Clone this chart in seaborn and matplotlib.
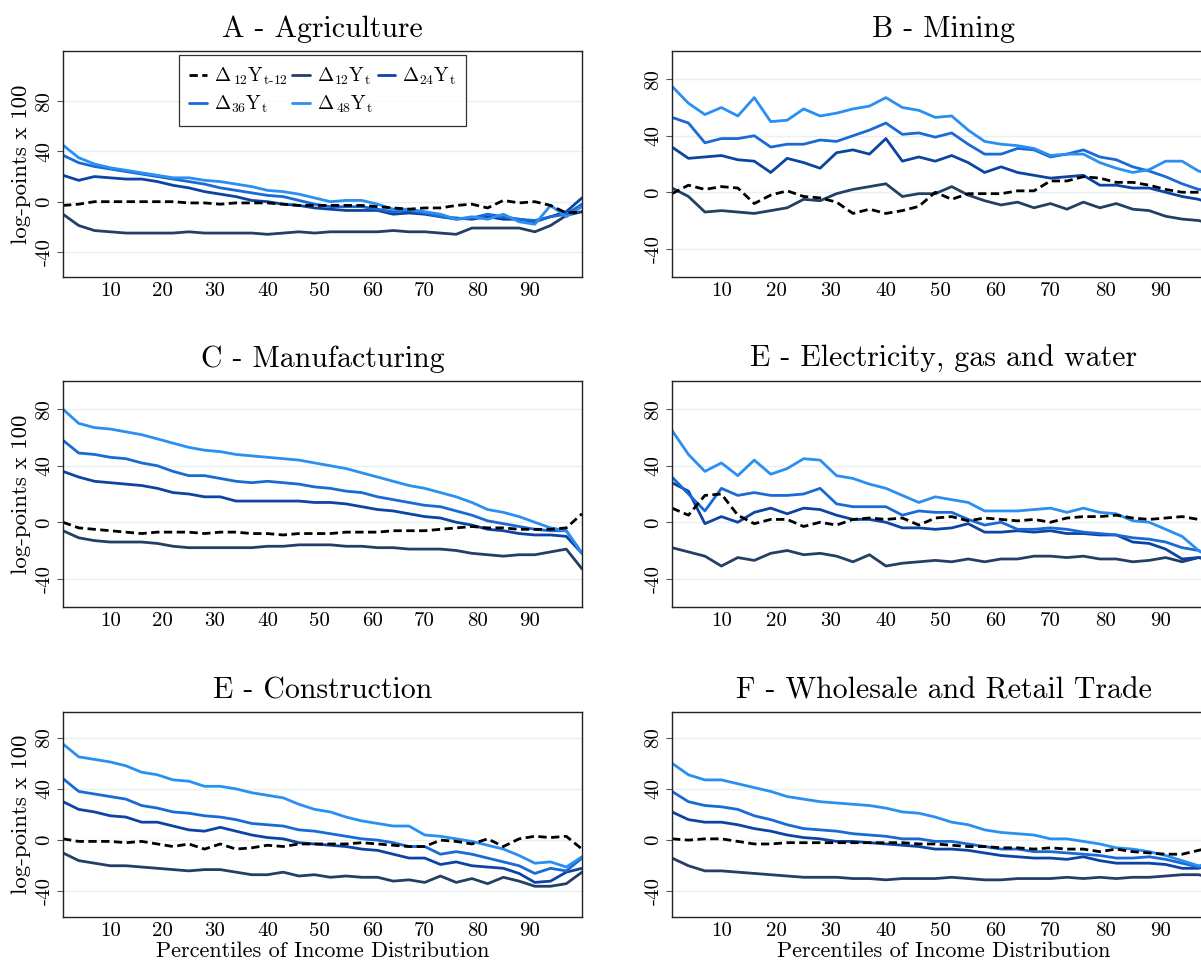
import numpy as np
import pandas as pd
import matplotlib
matplotlib.use("Agg")
import matplotlib.pyplot as plt
import seaborn as sns

# ==========================================
# 1. Data (every 3rd percentile)
# ==========================================
PCTL = [1, 4, 7, 10, 13, 16, 19, 22, 25, 28, 31, 34, 37, 40, 43, 46, 49,
        52, 55, 58, 61, 64, 67, 70, 73, 76, 79, 82, 85, 88, 91, 94, 97, 100]

SERIES = ["L12", "D12", "D24", "D36", "D48"]
LABELS = [r"$\Delta_{\,12}\mathrm{Y}_{\mathrm{t\text{-}12}}$",
          r"$\Delta_{12}\mathrm{Y}_{\mathrm{t}}$",
          r"$\Delta_{24}\mathrm{Y}_{\mathrm{t}}$",
          r"$\Delta_{36}\mathrm{Y}_{\mathrm{t}}$",
          r"$\Delta_{\,48}\mathrm{Y}_{\mathrm{t}}$"]
COLORS = ["black", "#233f66", "#0c44a3", "#1a6ad6", "#2a8ff2"]

TITLES = ["A - Agriculture", "B - Mining", "C - Manufacturing",
          "E - Electricity, gas and water", "E - Construction",
          "F - Wholesale and Retail Trade"]

# A - Agriculture
agr_l12 = [-3, -2, 0, 0, 0, 0, 0, 0, -1, -1, -2, -1, -1, -1, -2, -3, -3,
           -3, -3, -3, -4, -5, -6, -5, -5, -3, -2, -5, 1, -1, 0, -3, -9, -8]
agr_d12 = [-10, -19, -23, -24, -25, -25, -25, -25, -24, -25, -25, -25, -25, -26, -25, -24, -25,
           -24, -24, -24, -24, -23, -24, -24, -25, -26, -21, -21, -21, -21, -24, -19, -11, -8]
agr_d24 = [21, 17, 20, 19, 18, 18, 16, 13, 11, 8, 6, 4, 1, 0, -2, -3, -5,
           -6, -7, -7, -7, -10, -9, -10, -12, -13, -14, -12, -14, -14, -16, -12, -8, 3]
agr_d36 = [37, 31, 28, 26, 24, 22, 20, 18, 16, 14, 11, 9, 7, 5, 4, 1, -2,
           -4, -4, -4, -6, -8, -7, -9, -12, -14, -13, -10, -12, -14, -15, -12, -10, -2]
agr_d48 = [45, 35, 30, 27, 25, 23, 21, 19, 19, 17, 16, 14, 12, 9, 8, 6, 3,
           0, 1, 1, -2, -6, -6, -8, -10, -14, -12, -14, -10, -16, -18, -3, -12, -4]

# B - Mining
min_l12 = [-1, 5, 2, 4, 3, -8, -2, 1, -3, -4, -7, -15, -12, -15, -13, -10, 0,
           -5, -1, -1, -1, 1, 1, 8, 8, 11, 10, 7, 7, 5, 2, 0, 0, 1]
min_d12 = [3, -3, -14, -13, -14, -15, -13, -11, -5, -6, -1, 2, 4, 6, -3, -1, -1,
           4, -2, -6, -9, -7, -11, -8, -12, -7, -11, -8, -12, -13, -17, -19, -20, -23]
min_d24 = [32, 24, 25, 26, 23, 22, 14, 24, 21, 17, 28, 30, 27, 38, 22, 25, 22,
           26, 21, 14, 18, 14, 12, 10, 11, 12, 5, 5, 3, 3, 0, -3, -5, -9]
min_d36 = [53, 49, 35, 38, 38, 40, 32, 34, 34, 37, 36, 40, 44, 49, 41, 42, 39,
           42, 34, 27, 27, 31, 30, 25, 27, 30, 25, 23, 18, 15, 11, 6, 2, 1]
min_d48 = [75, 63, 55, 60, 54, 67, 50, 51, 59, 54, 56, 59, 61, 67, 60, 58, 53,
           54, 44, 36, 34, 33, 31, 26, 27, 27, 21, 17, 14, 16, 22, 22, 15, 12]

# C - Manufacturing
man_l12 = [0, -4, -5, -6, -7, -8, -7, -7, -7, -8, -7, -7, -8, -8, -9, -8, -8,
           -8, -7, -7, -7, -6, -6, -6, -5, -4, -3, -4, -4, -5, -5, -5, -4, 6]
man_d12 = [-6, -11, -13, -14, -14, -14, -15, -17, -18, -18, -18, -18, -18, -17, -17, -16, -16,
           -16, -17, -17, -18, -18, -19, -19, -19, -20, -22, -23, -24, -23, -23, -21, -19, -33]
man_d24 = [36, 32, 29, 28, 27, 26, 24, 21, 20, 18, 18, 15, 15, 15, 15, 15, 14,
           14, 13, 11, 9, 8, 6, 4, 3, 0, -2, -5, -6, -8, -9, -9, -10, -22]
man_d36 = [58, 49, 48, 46, 45, 42, 40, 36, 33, 33, 31, 29, 28, 29, 28, 27, 25,
           24, 22, 21, 18, 16, 14, 12, 11, 8, 5, 1, -1, -3, -5, -6, -6, -22]
man_d48 = [80, 70, 67, 66, 64, 62, 59, 56, 53, 51, 50, 48, 47, 46, 45, 44, 42,
           40, 38, 35, 32, 29, 26, 24, 21, 18, 14, 9, 7, 4, 0, -4, -6, -22]

# E - Electricity, gas and water
ele_l12 = [10, 5, 19, 20, 5, -1, 2, 2, -3, 0, -2, 2, 3, 2, 3, -2, 3,
           4, 1, 3, 2, 1, 2, 0, 3, 4, 4, 5, 3, 2, 3, 4, 2, 4]
ele_d12 = [-18, -21, -24, -31, -25, -27, -22, -20, -23, -22, -24, -28, -23, -31, -29, -28, -27,
           -28, -26, -28, -26, -26, -24, -24, -25, -24, -26, -26, -28, -27, -25, -28, -25, -26]
ele_d24 = [28, 22, -1, 4, 0, 7, 10, 6, 10, 9, 5, 2, 2, 0, -4, -4, -5,
           -4, -1, -7, -7, -6, -7, -6, -8, -8, -9, -9, -14, -15, -19, -26, -25, -28]
ele_d36 = [32, 20, 8, 24, 19, 21, 19, 19, 20, 24, 13, 11, 11, 11, 5, 8, 7,
           7, 2, -2, 0, -5, -5, -4, -5, -7, -8, -9, -11, -12, -14, -18, -20, -27]
ele_d48 = [65, 48, 36, 42, 33, 44, 34, 38, 45, 44, 33, 31, 27, 24, 19, 14, 18,
           16, 14, 8, 8, 8, 9, 10, 7, 10, 7, 6, 1, 0, -5, -10, -20, -25]

# E - Construction
con_l12 = [1, -1, -1, -1, -2, -1, -3, -5, -3, -7, -3, -7, -6, -4, -5, -3, -3,
           -3, -3, -2, -3, -4, -5, -5, 0, -1, -3, 1, -5, 1, 3, 2, 3, -7]
con_d12 = [-10, -16, -18, -20, -20, -21, -22, -23, -24, -23, -23, -25, -27, -27, -25, -28, -27,
           -29, -28, -29, -29, -32, -31, -33, -28, -33, -30, -34, -29, -32, -36, -36, -34, -25]
con_d24 = [30, 24, 22, 19, 18, 14, 14, 11, 8, 7, 10, 7, 4, 2, 1, -2, -3,
           -4, -5, -7, -8, -11, -14, -14, -19, -17, -20, -21, -22, -26, -33, -32, -25, -22]
con_d36 = [48, 38, 36, 34, 32, 27, 25, 22, 21, 19, 18, 16, 13, 12, 11, 8, 7,
           5, 3, 1, 0, -2, -5, -5, -11, -9, -11, -14, -17, -20, -26, -22, -24, -14]
con_d48 = [75, 65, 63, 61, 58, 53, 51, 47, 46, 42, 42, 40, 37, 35, 33, 28, 24,
           22, 18, 15, 13, 11, 11, 4, 3, 1, -1, -4, -7, -12, -18, -17, -21, -13]

# F - Wholesale and Retail Trade
whr_l12 = [1, 0, 1, 1, -1, -3, -3, -2, -2, -2, -2, -2, -2, -2, -2, -3, -3,
           -4, -5, -5, -6, -6, -7, -6, -7, -7, -9, -7, -9, -10, -11, -11, -8, -5]
whr_d12 = [-14, -20, -24, -24, -25, -26, -27, -28, -29, -29, -29, -30, -30, -31, -30, -30, -30,
           -29, -30, -31, -31, -30, -30, -30, -29, -30, -29, -30, -29, -29, -28, -27, -27, -30]
whr_d24 = [22, 16, 14, 14, 12, 9, 7, 4, 2, 1, -1, -1, -2, -3, -4, -5, -7,
           -7, -8, -10, -12, -13, -14, -14, -15, -13, -16, -18, -18, -18, -19, -22, -22, -18]
whr_d36 = [38, 30, 27, 26, 24, 19, 16, 12, 9, 8, 7, 5, 4, 3, 1, 1, -1,
           -1, -3, -5, -7, -7, -9, -9, -10, -11, -12, -14, -14, -13, -15, -18, -21, -17]
whr_d48 = [60, 51, 47, 47, 44, 41, 38, 34, 32, 30, 29, 28, 27, 25, 22, 21, 18,
           14, 12, 8, 6, 5, 4, 1, 1, -1, -3, -6, -7, -9, -12, -16, -20, -18]

PANELS = [
    [agr_l12, agr_d12, agr_d24, agr_d36, agr_d48],
    [min_l12, min_d12, min_d24, min_d36, min_d48],
    [man_l12, man_d12, man_d24, man_d36, man_d48],
    [ele_l12, ele_d12, ele_d24, ele_d36, ele_d48],
    [con_l12, con_d12, con_d24, con_d36, con_d48],
    [whr_l12, whr_d12, whr_d24, whr_d36, whr_d48],
]

# ==========================================
# 2. Style
# ==========================================
sns.set_theme(style="white")
plt.rcParams["font.family"] = ["cmr10", "DejaVu Serif"]
plt.rcParams["mathtext.fontset"] = "cm"
plt.rcParams["axes.unicode_minus"] = False
plt.rcParams["axes.formatter.use_mathtext"] = False
for key in ["text.color", "axes.labelcolor", "xtick.color", "ytick.color"]:
    plt.rcParams[key] = "black"

# axes rectangles in pixels (left, top, width, height) of a 1201x967 canvas
W, H = 1201, 967
RECTS = [
    (63, 51, 519, 226), (672, 51, 543, 226),
    (63, 381, 519, 226), (672, 381, 543, 226),
    (63, 712, 519, 205), (672, 712, 543, 205),
]

fig = plt.figure(figsize=(W / 100, H / 100), dpi=100)

palette = dict(zip(SERIES, COLORS))
dashes = {s: (3, 1.6) if s == "L12" else "" for s in SERIES}

for i, (rect, series_vals) in enumerate(zip(RECTS, PANELS)):
    l, t, w, h = rect
    ax = fig.add_axes([l / W, (H - t - h) / H, w / W, h / H])

    df = pd.DataFrame({
        "pct": np.tile(PCTL, len(SERIES)),
        "val": np.concatenate(series_vals),
        "series": np.repeat(SERIES, len(PCTL)),
    })
    # draw the dashed line last so it sits on top, as in the reference
    order = SERIES[1:] + SERIES[:1]
    sns.lineplot(data=df, x="pct", y="val", hue="series", style="series",
                 hue_order=order, style_order=order, palette=palette,
                 dashes=dashes, linewidth=2.0, legend=False, ax=ax)

    ax.set_xlim(1, 100)
    ax.set_ylim(-60, 120 if i == 0 else 100)
    ax.set_xticks(range(10, 100, 10))
    ax.set_yticks([-40, 0, 40, 80])
    ax.set_yticklabels(["-40", "0", "40", "80"], rotation=90, va="center")
    ax.tick_params(axis="x", length=0, labelsize=15, pad=4)
    ax.tick_params(axis="y", length=4, width=0.8, color="#555555",
                   labelsize=15, pad=3, left=True)
    ax.grid(axis="y", color="#e8f0f0", linewidth=1.0)
    ax.set_axisbelow(True)
    for sp in ax.spines.values():
        sp.set_color("#222222")
        sp.set_linewidth(1.0)

    ax.set_title(TITLES[i], fontsize=21.5, pad=10)
    ax.set_xlabel("Percentiles of Income Distribution" if i >= 4 else "",
                  fontsize=16, labelpad=1)
    ax.set_ylabel("log-points x 100" if i % 2 == 0 else "", fontsize=16.5,
                  labelpad=3)

    if i == 0:
        handles = [plt.Line2D([], [], color=c, linewidth=2.0,
                              linestyle=(0, (3, 1.6)) if s == "L12" else "-")
                   for s, c in zip(SERIES, COLORS)]
        # legend fills column by column; reorder so it reads row by row
        fill = [0, 3, 1, 4, 2]
        leg = ax.legend([handles[k] for k in fill], [LABELS[k] for k in fill],
                        loc="upper center", ncol=3,
                        fontsize=14, handlelength=0.9, handletextpad=0.35,
                        columnspacing=0.25, borderpad=0.55, labelspacing=0.35,
                        borderaxespad=0.2, fancybox=False, frameon=True)
        leg.get_frame().set_edgecolor("black")
        leg.get_frame().set_linewidth(0.9)

fig.savefig("out.png", dpi=100)
